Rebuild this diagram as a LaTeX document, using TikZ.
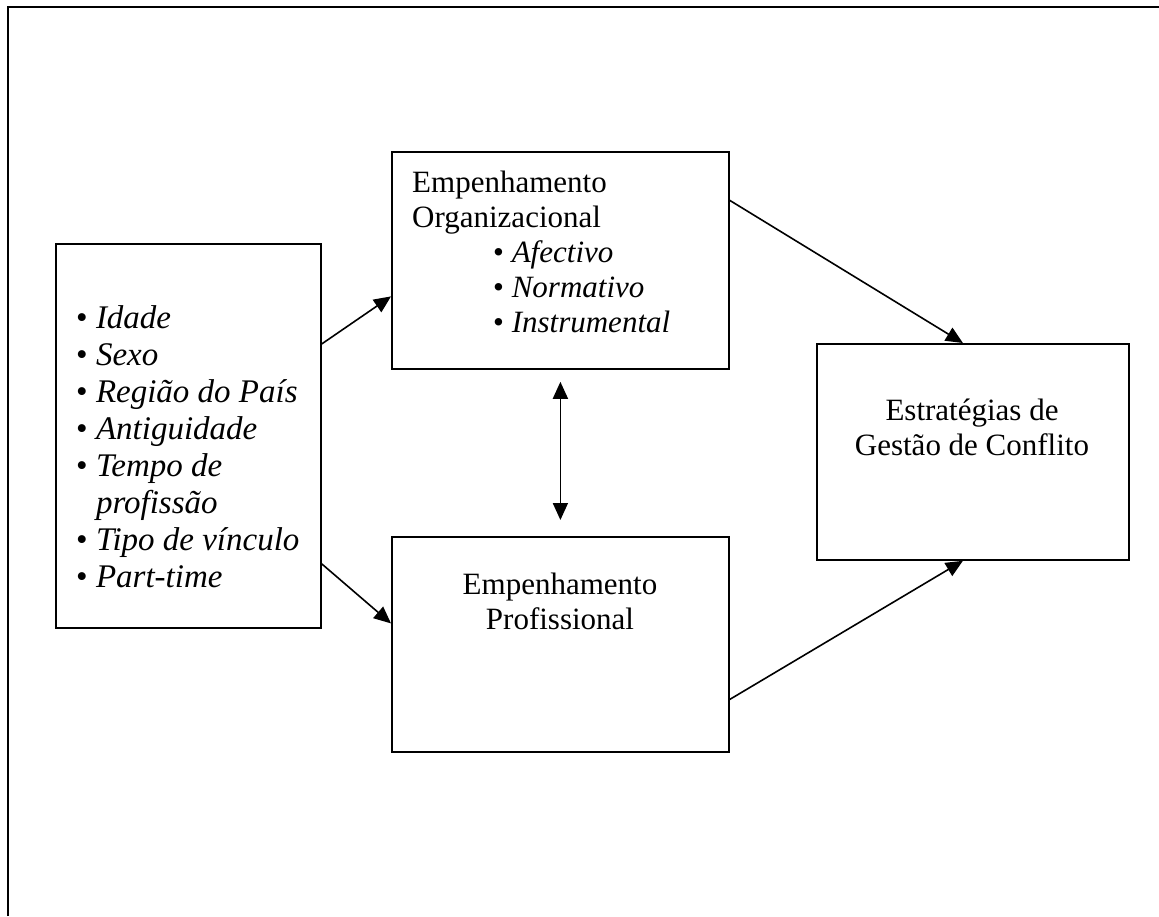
\documentclass[tikz,border=0pt]{standalone}
\usepackage{fontspec}
\setmainfont{Liberation Serif}
\usetikzlibrary{arrows.meta,positioning}

\begin{document}
\begin{tikzpicture}[
  x=1pt, y=-1pt,
  box/.style={rectangle, draw=black, line width=1.8pt, anchor=north west, inner sep=0pt},
  txt/.style={inner sep=0pt, font=\fontsize{31}{35}\selectfont},
  lista/.style={txt, font=\fontsize{33}{37}\selectfont},
  arr/.style={-{Triangle[length=17pt, width=15pt]}, line width=1.6pt},
  darr/.style={{Triangle[length=17pt, width=15pt]}-{Triangle[length=17pt, width=15pt]}, line width=1.8pt}
]
\useasboundingbox (0,0) rectangle (1159,916);
% frame
\draw[line width=2.8pt] (8,916) -- (8,7) -- (1159,7);

% boxes
\node[box, minimum width=265pt, minimum height=384pt] (fatores) at (55,243) {};
\node[box, minimum width=337pt, minimum height=217pt] (orgbox) at (391,151) {};
\node[box, minimum width=337pt, minimum height=215pt] (profbox) at (391,536) {};
\node[box, minimum width=312pt, minimum height=216pt] (estrat) at (816,343) {};

% texts
\node[lista, anchor=north west, align=left] (fatorestxt) at (76,305) {%
  \textbullet\ \textit{Idade}\\
  \textbullet\ \textit{Sexo}\\
  \textbullet\ \textit{Região do País}\\
  \textbullet\ \textit{Antiguidade}\\
  \textbullet\ \textit{Tempo de}\\
  \phantom{\textbullet\ }\textit{profissão}\\
  \textbullet\ \textit{Tipo de vínculo}\\
  \textbullet\ \textit{Part-time}};
\node[txt, anchor=north west, align=left] (orgtxt) at (412,171) {%
  Empenhamento\\
  Organizacional\\
  \hspace{81pt}\textbullet\ \textit{Afectivo}\\
  \hspace{81pt}\textbullet\ \textit{Normativo}\\
  \hspace{81pt}\textbullet\ \textit{Instrumental}};
\node[txt, anchor=north, align=center] (proftxt) at (560,573) {Empenhamento\\ Profissional};
\node[txt, anchor=north, align=center] (estrattxt) at (972,399) {Estratégias de\\ Gestão de Conflito};

% connectors
\draw[arr] ([yshift=92pt]fatores.east) -- ([yshift=-36pt]orgbox.west);
\draw[arr] ([yshift=-128pt]fatores.east) -- ([yshift=21pt]profbox.west);
\draw[arr] ([yshift=60pt]orgbox.east) -- ([xshift=-10pt]estrat.north);
\draw[arr] ([yshift=-55pt]profbox.east) -- ([xshift=-10pt]estrat.south);
\draw[darr, shorten <=12pt, shorten >=16pt] (orgbox.south) -- (profbox.north);
\end{tikzpicture}
\end{document}
